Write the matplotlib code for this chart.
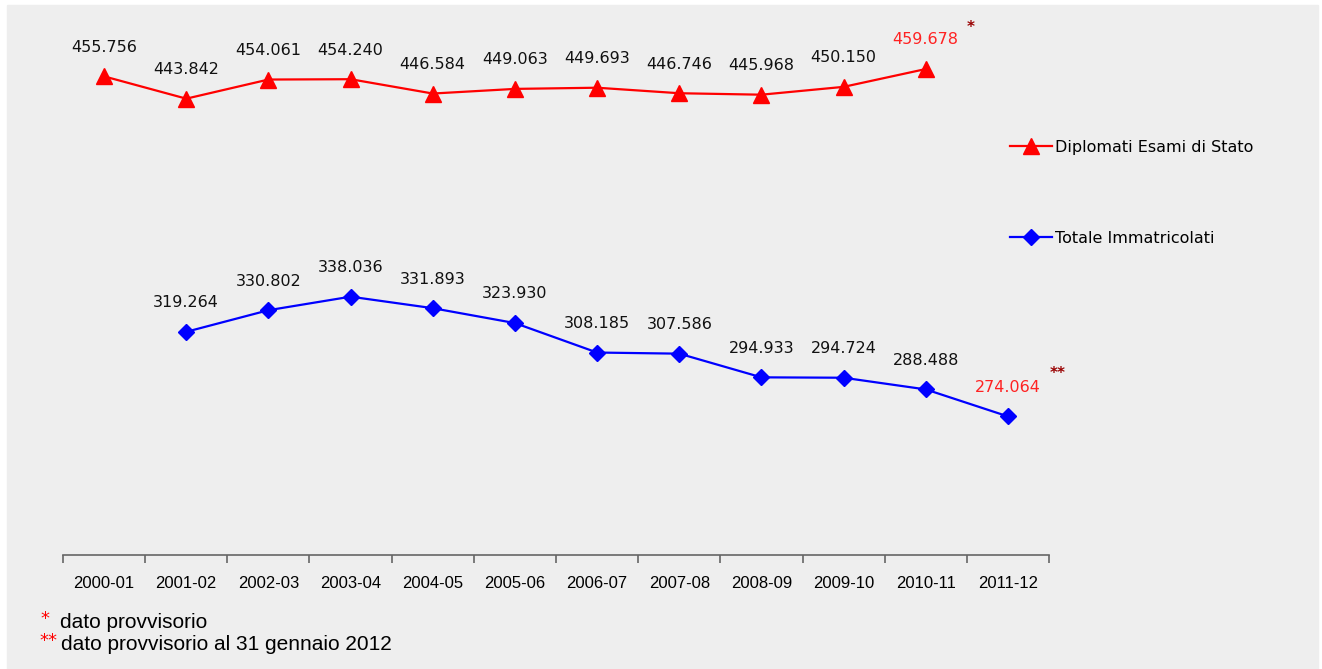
import numpy as np
import matplotlib.pyplot as plt
from matplotlib.patches import Rectangle

# anni accademici
anni = ['2000-01', '2001-02', '2002-03', '2003-04', '2004-05', '2005-06',
        '2006-07', '2007-08', '2008-09', '2009-10', '2010-11', '2011-12']
diplomati = [455756, 443842, 454061, 454240, 446584, 449063,
             449693, 446746, 445968, 450150, 459678, np.nan]
immatricolati = [np.nan, 319264, 330802, 338036, 331893, 323930,
                 308185, 307586, 294933, 294724, 288488, 274064]

def fmt(v):
    # separatore delle migliaia all'italiana
    return '{:,}'.format(int(v)).replace(',', '.')

W, H = 1322, 669
fig = plt.figure(figsize=(W / 100, H / 100), dpi=100, facecolor='white')
fig.patches.append(Rectangle((7 / W, 0), (W - 11) / W, (H - 5) / H,
                             transform=fig.transFigure, color='#eeeeee', zorder=-10))

ax = fig.add_axes([63 / W, 114 / H, (1049 - 63) / W, 524 / H])
ax.set_facecolor('none')

x = np.arange(len(anni))
ax.plot(x, diplomati, color='#ff0000', lw=1.6, marker='^', ms=11,
        label='Diplomati Esami di Stato')
ax.plot(x, immatricolati, color='#0000ff', lw=1.6, marker='D', ms=8,
        label='Totale Immatricolati')

# etichette dei valori
for serie, ultimo in ((diplomati, 10), (immatricolati, 11)):
    for i, v in enumerate(serie):
        if np.isnan(v):
            continue
        col = '#ff2222' if i == ultimo else '#111111'
        ax.annotate(fmt(v), (i, v), xytext=(0, 21), textcoords='offset points',
                    ha='center', va='center', fontsize=11.5, color=col)

ax.annotate('*', (10, diplomati[10]), xytext=(32, 30), textcoords='offset points',
            ha='center', va='center', fontsize=11, color='#990000', weight='bold')
ax.annotate('**', (11, immatricolati[11]), xytext=(36, 31), textcoords='offset points',
            ha='center', va='center', fontsize=11, color='#990000', weight='bold')

ax.set_xlim(-0.5, len(anni) - 0.5)
ax.set_ylim(200000, 480000)
ax.set_yticks([])
for s in ('top', 'right', 'left'):
    ax.spines[s].set_visible(False)
ax.spines['bottom'].set_color('#666666')
ax.spines['bottom'].set_linewidth(1.2)

ax.set_xticks(x)
ax.set_xticklabels(anni, fontsize=12, family='Liberation Sans')
ax.tick_params(axis='x', which='major', length=0, pad=15)
ax.set_xticks(np.arange(-0.5, len(anni)), minor=True)
ax.tick_params(axis='x', which='minor', length=6, color='#666666', width=1.2)

ax.legend(loc='upper left', bbox_to_anchor=(0.946, 0.82), frameon=False,
          fontsize=11.5, labelspacing=4.75, handlelength=2.6, handletextpad=0.2)

fig.text(40 / W, 1 - 619 / H, '*', color='red', fontsize=13, va='center')
fig.text(60 / W, 1 - 622 / H, 'dato provvisorio', fontsize=15,
         family='Liberation Sans', va='center')
fig.text(39 / W, 1 - 641 / H, '**', color='red', fontsize=13, va='center')
fig.text(61 / W, 1 - 645 / H, 'dato provvisorio al 31 gennaio 2012', fontsize=15,
         family='Liberation Sans', va='center')

plt.savefig('out.png', dpi=100)
